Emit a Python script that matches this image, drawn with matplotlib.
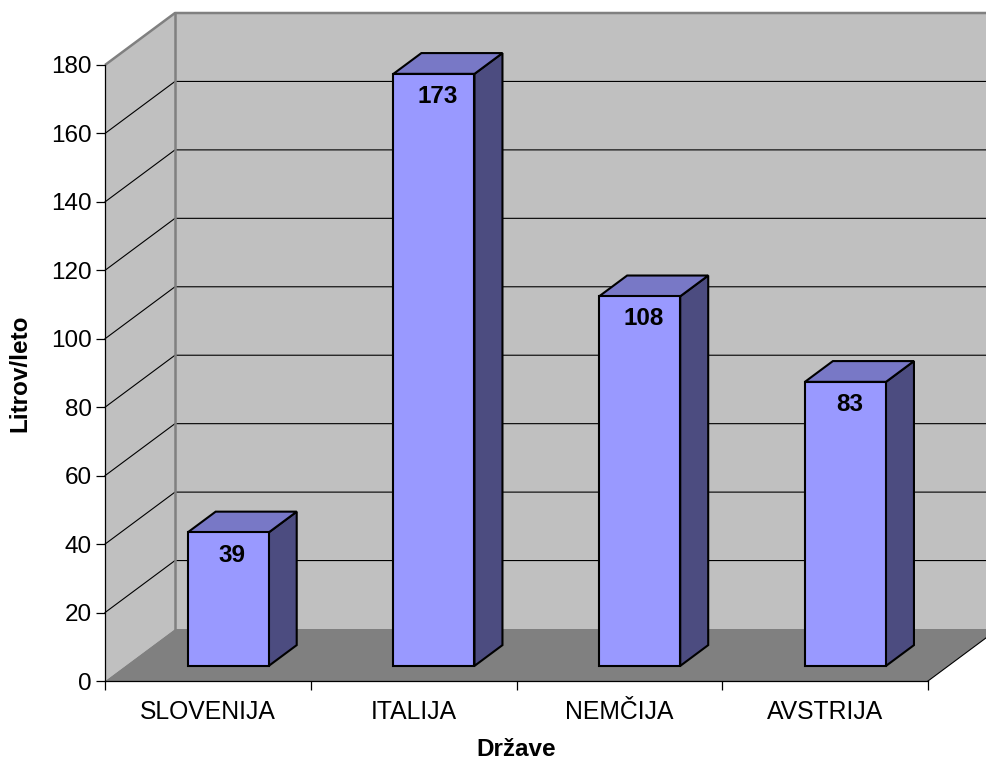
import matplotlib.pyplot as plt
from matplotlib.patches import Polygon

plt.rcParams['font.family'] = ['Liberation Sans', 'DejaVu Sans']

# data
countries = ["SLOVENIJA", "ITALIJA", "NEMČIJA", "AVSTRIJA"]
litres = [39, 173, 108, 83]
yticks = list(range(0, 181, 20))

W, H = 987, 762
fig = plt.figure(figsize=(W / 100, H / 100), dpi=100)
ax = fig.add_axes([105 / W, (H - 681) / H, 823 / W, 616 / H])
ax.set_xlim(0, len(countries))
ax.set_ylim(0, 180)
ax.patch.set_visible(False)

# depth of the 3d box in data units
DX = 70 / 823 * len(countries)
DY = 52 / 616 * 180
ymax = 180
n = len(countries)

wall = "#c0c0c0"
floor = "#808080"

# left wall, back wall, floor
ax.add_patch(Polygon([(0, 0), (0, ymax), (DX, ymax + DY), (DX, DY)],
                     closed=True, fc=wall, ec="none", clip_on=False, zorder=0))
ax.add_patch(Polygon([(DX, DY), (DX, ymax + DY), (n + DX, ymax + DY), (n + DX, DY)],
                     closed=True, fc=wall, ec="none", clip_on=False, zorder=0))
ax.add_patch(Polygon([(0, 0), (n, 0), (n + DX, DY), (DX, DY)],
                     closed=True, fc=floor, ec="none", clip_on=False, zorder=1))

# gridlines on both walls
for v in yticks[1:-1]:
    ax.plot([0, DX, n + DX], [v, v + DY, v + DY], color="black", lw=0.8,
            clip_on=False, zorder=0.5)

# wall borders
ax.plot([0, DX, n + DX], [ymax, ymax + DY, ymax + DY], color="#808080", lw=1.8,
        clip_on=False, zorder=0.6, solid_capstyle="butt")
ax.plot([DX, DX], [DY, ymax + DY], color="#808080", lw=1.8,
        clip_on=False, zorder=0.6)
ax.plot([n, n + DX], [0, DY], color="black", lw=0.8, clip_on=False, zorder=1.5)

# bars
w = 0.394
f0 = 0.29
d = 0.40
for i, v in enumerate(litres):
    x0 = i + 0.5 - w / 2 + f0 * DX
    x1 = x0 + w
    y0 = f0 * DY
    top = y0 + v
    ddx, ddy = d * DX, d * DY
    ax.add_patch(Polygon([(x1, y0), (x1, top), (x1 + ddx, top + ddy), (x1 + ddx, y0 + ddy)],
                         closed=True, fc="#4c4c80", ec="black", lw=1.5,
                         clip_on=False, zorder=3, joinstyle="miter"))
    ax.add_patch(Polygon([(x0, top), (x1, top), (x1 + ddx, top + ddy), (x0 + ddx, top + ddy)],
                         closed=True, fc="#7878c6", ec="black", lw=1.5,
                         clip_on=False, zorder=3, joinstyle="miter"))
    ax.add_patch(Polygon([(x0, y0), (x1, y0), (x1, top), (x0, top)],
                         closed=True, fc="#9999ff", ec="black", lw=1.5,
                         clip_on=False, zorder=4, joinstyle="miter"))
    ax.text((x0 + x1) / 2 + 0.02, top - 6.6, str(v), ha="center", va="center",
            fontsize=17.5, fontweight="bold", zorder=5)

# axes
for s in ["top", "right"]:
    ax.spines[s].set_visible(False)
for s in ["left", "bottom"]:
    ax.spines[s].set_linewidth(0.9)
    ax.spines[s].set_zorder(2)
ax.set_yticks(yticks)
ax.set_xticks(range(n + 1))
ax.set_xticklabels([])
ax.set_xticks([i + 0.5 for i in range(n)], minor=True)
ax.set_xticklabels(countries, minor=True)
ax.tick_params(axis="x", which="minor", length=0, pad=14, labelsize=17.8)
ax.tick_params(axis="x", which="major", length=6.5, width=0.9, direction="out")
ax.tick_params(axis="y", length=6.5, width=0.9, direction="out", pad=3, labelsize=17.5)

ax.set_xlabel("Države", fontsize=17.5, fontweight="bold", labelpad=10)
ax.set_ylabel("Litrov/leto", fontsize=17.5, fontweight="bold", labelpad=14)

fig.savefig("out.png", dpi=100)
